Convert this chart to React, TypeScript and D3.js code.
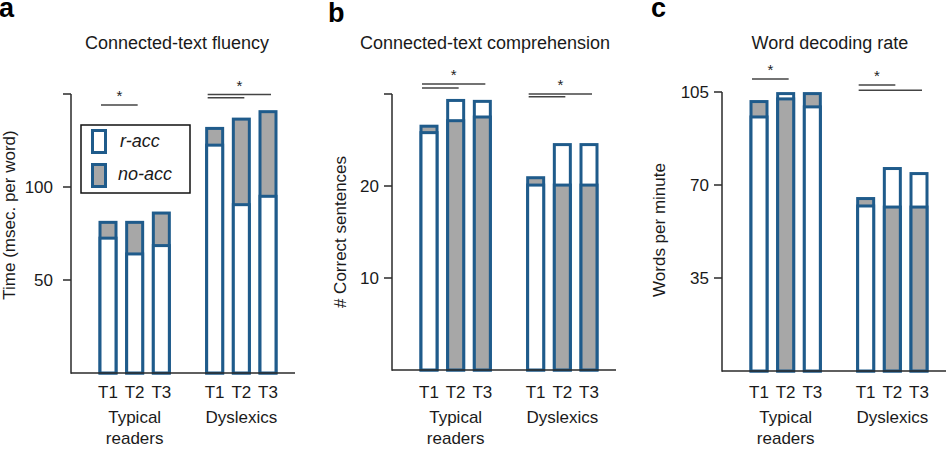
import React from "react";
import * as d3 from "d3";

// ---------- data ----------
const times = ["T1", "T2", "T3"];
const groups = ["Typical readers", "Dyslexics"];
const groupLines = [["Typical", "readers"], ["Dyslexics"]];
const seriesNames = ["r-acc", "no-acc"];

// order: Typical T1,T2,T3, Dyslexics T1,T2,T3
const fluencyRAcc = [72.5, 64, 68.5, 122.5, 90.5, 95];
const fluencyNoAcc = [81, 81, 86, 131.5, 136.5, 140.5];

const comprehensionRAcc = [25.8, 29.3, 29.2, 20.1, 24.5, 24.5];
const comprehensionNoAcc = [26.5, 27.1, 27.5, 20.9, 20.1, 20.1];

const decodingRAcc = [95.6, 104.4, 99.4, 62.1, 76.2, 74.3];
const decodingNoAcc = [101.4, 102.4, 104.4, 64.9, 61.7, 61.7];

const fluencyTicks = [50, 100, 150];
const fluencyTickLabels = ["50", "100", ""];
const comprehensionTicks = [10, 20, 30];
const comprehensionTickLabels = ["10", "20", ""];
const decodingTicks = [35, 70, 105];
const decodingTickLabels = ["35", "70", "105"];

// significance brackets: [group, fromTime, toTime, value]
const fluencyBrackets: [number, number, number, number][] = [
  [0, 0, 1, 144.1],
  [1, 0, 2, 149.7],
  [1, 0, 1, 148.0],
];
const comprehensionBrackets: [number, number, number, number][] = [
  [0, 0, 2, 31.1],
  [0, 0, 1, 30.65],
  [1, 0, 2, 30.0],
  [1, 0, 1, 29.7],
];
const decodingBrackets: [number, number, number, number][] = [
  [0, 0, 1, 109.9],
  [1, 0, 1, 107.6],
  [1, 0, 2, 105.7],
];

// ---------- style / layout ----------
const FONT = "'Liberation Sans', Arial, Helvetica, sans-serif";
const BLUE = "#1f5b8b";
const GREY = "#a7a7a7";
const AXIS = "#2a2a2a";
const TEXT = "#1a1a1a";

const slots = [
  ...times.map((t) => `${groups[0]}|${t}`),
  "gap",
  ...times.map((t) => `${groups[1]}|${t}`),
];

type Panel = {
  letter: string;
  letterX: number;
  letterY: number;
  title: string;
  titleX: number;
  yLabel: string;
  yLabelX: number;
  yLabelY: number;
  x0: number;
  yBase: number;
  yTop: number;
  max: number;
  ticks: number[];
  tickLabels: string[];
  labelGap: number;
  rAcc: number[];
  noAcc: number[];
  brackets: [number, number, number, number][];
  legend?: boolean;
};

const panels: Panel[] = [
  {
    letter: "a", letterX: -1, letterY: 17,
    title: "Connected-text fluency", titleX: 177,
    yLabel: "Time (msec. per word)", yLabelX: 14.5, yLabelY: 215,
    x0: 71, yBase: 373, yTop: 94, max: 150,
    ticks: fluencyTicks, tickLabels: fluencyTickLabels, labelGap: 10,
    rAcc: fluencyRAcc, noAcc: fluencyNoAcc, brackets: fluencyBrackets, legend: true,
  },
  {
    letter: "b", letterX: 328, letterY: 22,
    title: "Connected-text comprehension", titleX: 485,
    yLabel: "# Correct sentences", yLabelX: 345.5, yLabelY: 232,
    x0: 392, yBase: 370, yTop: 94, max: 30,
    ticks: comprehensionTicks, tickLabels: comprehensionTickLabels, labelGap: 5,
    rAcc: comprehensionRAcc, noAcc: comprehensionNoAcc, brackets: comprehensionBrackets,
  },
  {
    letter: "c", letterX: 651, letterY: 17,
    title: "Word decoding rate", titleX: 830,
    yLabel: "Words per minute", yLabelX: 665, yLabelY: 230,
    x0: 722, yBase: 371, yTop: 92, max: 105,
    ticks: decodingTicks, tickLabels: decodingTickLabels, labelGap: 5,
    rAcc: decodingRAcc, noAcc: decodingNoAcc, brackets: decodingBrackets,
  },
];

const BAR_W = 16;
const BAR_STROKE = 3;

function PanelView({ p }: { p: Panel }) {
  const x = d3.scalePoint<string>().domain(slots).range([p.x0 + 37, p.x0 + 197]);
  const y = d3.scaleLinear().domain([0, p.max]).range([p.yBase, p.yTop]);
  const key = (g: number, t: number) => `${groups[g]}|${times[t]}`;

  const bars = p.rAcc.map((r, i) => {
    const g = Math.floor(i / 3);
    const t = i % 3;
    const n = p.noAcc[i];
    const cx = x(key(g, t)) as number;
    const items = [
      { v: r, fill: "#ffffff" },
      { v: n, fill: GREY },
    ].sort((a, b) => b.v - a.v);
    return (
      <g key={i}>
        {items.map((it, j) => (
          <rect
            key={j}
            x={cx - BAR_W / 2}
            y={y(it.v)}
            width={BAR_W}
            height={y(0) - y(it.v)}
            fill={it.fill}
            stroke={BLUE}
            strokeWidth={BAR_STROKE}
          />
        ))}
      </g>
    );
  });

  const starGroups = [0, 1].map((g) => {
    const bs = p.brackets.filter((b) => b[0] === g);
    if (!bs.length) return null;
    const top = bs.reduce((a, b) => (b[3] > a[3] ? b : a));
    const x1 = (x(key(g, top[1])) as number) - 7;
    const x2 = (x(key(g, top[2])) as number) + 3;
    return { cx: (x1 + x2) / 2, yy: y(top[3]) };
  });

  return (
    <g>
      <text x={p.letterX} y={p.letterY} fontSize={27} fontWeight="bold" fill="#000">
        {p.letter}
      </text>
      <text x={p.titleX} y={49} fontSize={18} textAnchor="middle" fill={TEXT}>
        {p.title}
      </text>
      <text
        transform={`translate(${p.yLabelX},${p.yLabelY}) rotate(-90)`}
        fontSize={17}
        textAnchor="middle"
        fill={TEXT}
      >
        {p.yLabel}
      </text>

      {bars}

      {/* y axis */}
      <line x1={p.x0} x2={p.x0} y1={y(0) + 0.75} y2={y(p.max)} stroke={AXIS} strokeWidth={1.5} />
      {p.ticks.map((t, i) => (
        <g key={t}>
          <line x1={p.x0 - 8} x2={p.x0} y1={y(t)} y2={y(t)} stroke={AXIS} strokeWidth={1.5} />
          <text
            x={p.x0 - 8 - p.labelGap}
            y={y(t)}
            dy="0.36em"
            fontSize={17}
            textAnchor="end"
            fill={TEXT}
          >
            {p.tickLabels[i]}
          </text>
        </g>
      ))}
      {/* x axis */}
      <line x1={p.x0} x2={p.x0 + 224} y1={y(0)} y2={y(0)} stroke={AXIS} strokeWidth={1.5} />

      {/* x labels */}
      {slots.map((s) => {
        if (s === "gap") return null;
        const t = s.split("|")[1];
        return (
          <text key={s} x={x(s) as number} y={398} fontSize={17} textAnchor="middle" fill={TEXT}>
            {t}
          </text>
        );
      })}
      {groups.map((g, gi) => (
        <text key={g} x={x(key(gi, 1)) as number} y={423} fontSize={17} textAnchor="middle" fill={TEXT}>
          {groupLines[gi].map((ln, li) => (
            <tspan key={li} x={x(key(gi, 1)) as number} dy={li === 0 ? 0 : 21}>
              {ln}
            </tspan>
          ))}
        </text>
      ))}

      {/* significance */}
      {p.brackets.map((b, i) => {
        const x1 = (x(key(b[0], b[1])) as number) - 7;
        const x2 = (x(key(b[0], b[2])) as number) + 3;
        return <line key={i} x1={x1} x2={x2} y1={y(b[3])} y2={y(b[3])} stroke="#444" strokeWidth={1.5} />;
      })}
      {starGroups.map((s, i) =>
        s ? (
          <text key={i} x={s.cx} y={s.yy - 12 + 8} fontSize={15} textAnchor="middle" fill="#222">
            *
          </text>
        ) : null
      )}

      {p.legend && (
        <g>
          <rect x={81} y={125} width={109} height={68} fill="#fff" stroke="#111" strokeWidth={1.5} />
          <rect x={92.5} y={130.5} width={13} height={22} fill="#fff" stroke={BLUE} strokeWidth={BAR_STROKE} />
          <rect x={92.5} y={164.5} width={13} height={22} fill={GREY} stroke={BLUE} strokeWidth={BAR_STROKE} />
          <text x={120} y={147} fontSize={18} fontStyle="italic" fill={TEXT}>
            {seriesNames[0]}
          </text>
          <text x={118} y={180} fontSize={18} fontStyle="italic" fill={TEXT}>
            {seriesNames[1]}
          </text>
        </g>
      )}
    </g>
  );
}

export default function App() {
  return (
    <div style={{ position: "absolute", left: 0, top: 0 }}>
      <svg width={946} height={449} style={{ display: "block", fontFamily: FONT }}>
        <rect width={946} height={449} fill="#fff" />
        {panels.map((p) => (
          <PanelView key={p.letter} p={p} />
        ))}
      </svg>
    </div>
  );
}
